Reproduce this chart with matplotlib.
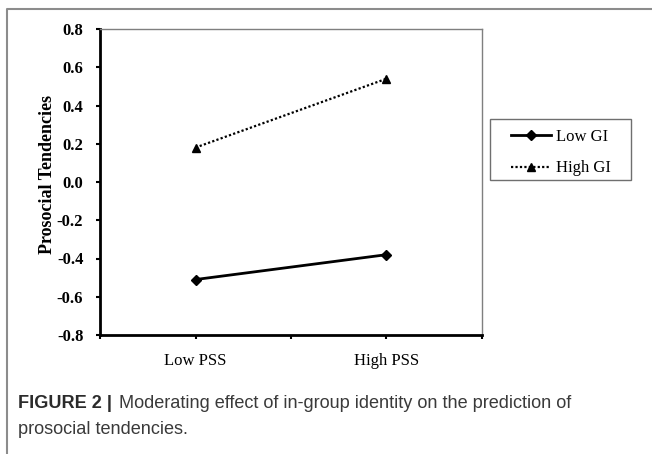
import matplotlib.pyplot as plt
from matplotlib.lines import Line2D
from matplotlib.patches import Rectangle

# data
categories = ['Low PSS', 'High PSS']
cat_pos = [1, 3]
low_gi = [-0.51, -0.38]
high_gi = [0.18, 0.54]
y_ticks = [-0.8, -0.6, -0.4, -0.2, 0.0, 0.2, 0.4, 0.6, 0.8]

W, H = 652, 454
fig = plt.figure(figsize=(W / 100, H / 100), dpi=100)

# plot area in pixels: x 100..482, y 29..335
ax = fig.add_axes([100 / W, 1 - 335 / H, 382 / W, 306 / H])

serif = 'Liberation Serif'

ax.plot(cat_pos, low_gi, color='black', lw=2, marker='D', ms=5, label='Low GI')
ax.plot(cat_pos, high_gi, color='black', lw=1.6, ls=(0, (1, 1)), marker='^', ms=6,
        label='High GI')

ax.set_xlim(0, 4)
ax.set_ylim(-0.8, 0.8)
ax.set_yticks(y_ticks)
ax.set_yticklabels(['%.1f' % v for v in y_ticks], fontfamily=serif, fontweight='bold',
                   fontsize=12)
ax.set_xticks([0, 1, 2, 3, 4])
ax.set_xticklabels(['', categories[0], '', categories[1], ''], fontfamily=serif,
                   fontsize=12)
ax.tick_params(axis='both', direction='out', length=3, width=1.5, color='black')
ax.tick_params(axis='x', pad=10)
ax.tick_params(axis='y', pad=9)

for s in ['left', 'bottom']:
    ax.spines[s].set_linewidth(2)
    ax.spines[s].set_color('black')
for s in ['top', 'right']:
    ax.spines[s].set_linewidth(1)
    ax.spines[s].set_color('#7f7f7f')

ax.set_ylabel('Prosocial Tendencies', fontfamily=serif, fontweight='bold', fontsize=13)
ax.yaxis.set_label_coords(-44 / 382, 0.5 + (306 / 2 - (174 - 29)) / 306)

# legend: box drawn separately so the side padding can be wider than the top one
leg = fig.legend(loc='center', bbox_to_anchor=(561 / W, 1 - 152.5 / H),
                 prop={'family': serif, 'size': 12}, frameon=False,
                 handlelength=2.4, handletextpad=0.25, labelspacing=0.95,
                 borderaxespad=0, borderpad=0)
fig.add_artist(Rectangle((490 / W, 1 - 180 / H), 141 / W, 61 / H,
                         transform=fig.transFigure, fill=False,
                         edgecolor='#6f6f6f', lw=1))

# outer frame of the figure panel
fig.add_artist(Line2D([7 / W, 7 / W, 1.0], [0.0, 1 - 9 / H, 1 - 9 / H],
                      transform=fig.transFigure, color='#8c8c8c', lw=1.5))

# caption
cap = 'Liberation Sans'
fig.canvas.draw()
renderer = fig.canvas.get_renderer()
t1 = fig.text(18 / W, 1 - 404 / H, 'FIGURE 2 |', fontfamily=cap, fontweight='bold',
              fontsize=13.1, color='#2b2b2b', va='center')
bb = t1.get_window_extent(renderer=renderer)
fig.text((bb.x1 + 7) / W, 1 - 404 / H, 'Moderating effect of in-group identity on the prediction of',
         fontfamily=cap, fontsize=13.1, color='#3a3a3a', va='center')
fig.text(18 / W, 1 - 429 / H, 'prosocial tendencies.', fontfamily=cap, fontsize=13.1,
         color='#3a3a3a', va='center')

fig.savefig('out.png', dpi=100)
